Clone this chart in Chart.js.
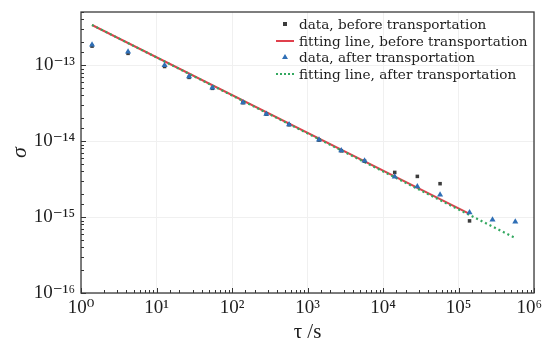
<!DOCTYPE html>
<html>
<head>
<meta charset="utf-8">
<script src="https://cdn.jsdelivr.net/npm/chart.js@4/dist/chart.umd.min.js"></script>
<style>
html,body{margin:0;padding:0;background:#fff;}
#wrap{position:relative;width:545px;height:340px;}
#legend{position:absolute;left:276px;top:16px;font-family:'DejaVu Serif',serif;font-size:13.6px;color:#1e1e1e;line-height:16.5px;}
.row{display:flex;align-items:center;height:16.5px;white-space:nowrap;}
.mk{width:18px;height:16px;position:relative;margin-right:5px;}
</style>
</head>
<body>
<div id="wrap">
<canvas id="c" width="545" height="340"></canvas>
<div id="legend"></div>
</div>
<script>
// ---- data ----
const tauBefore   = [1.4, 4.2, 12.8, 27, 55, 140, 285, 570, 1420, 2800, 5700, 14300, 28500, 57000, 140000];
const sigmaBefore = [1.78e-13, 1.43e-13, 9.6e-14, 6.9e-14, 4.95e-14, 3.2e-14, 2.26e-14, 1.64e-14, 1.03e-14, 7.45e-15, 5.45e-15, 3.87e-15, 3.43e-15, 2.75e-15, 8.9e-16];
const tauAfter    = [1.4, 4.2, 12.8, 27, 55, 140, 285, 570, 1420, 2800, 5700, 14300, 28500, 57000, 140000, 282000, 565000];
const sigmaAfter  = [1.85e-13, 1.5e-13, 1.0e-13, 7.1e-14, 5.05e-14, 3.22e-14, 2.28e-14, 1.65e-14, 1.04e-14, 7.5e-15, 5.5e-15, 3.39e-15, 2.53e-15, 1.96e-15, 1.15e-15, 9.2e-16, 8.7e-16];
const fitTauBefore   = [1.4, 140000];
const fitSigmaBefore = [3.38e-13, 1.1e-15];
const fitTauAfter    = [1.4, 565000];
const fitSigmaAfter  = [3.38e-13, 5.3e-16];
const seriesLabels = ['data, before transportation','fitting line, before transportation','data, after transportation','fitting line, after transportation'];
const xDecades = [0,1,2,3,4,5,6];
const yDecades = [-16,-15,-14,-13];

const SUP = {'0':'⁰','1':'¹','2':'²','3':'³','4':'⁴','5':'⁵','6':'⁶','7':'⁷','8':'⁸','9':'⁹','-':'⁻'};
function pow10Label(e){ return '10' + String(e).split('').map(c=>SUP[c]).join(''); }
function decadeOf(v){ const l=Math.log10(v); const r=Math.round(l); return Math.abs(l-r)<1e-6 ? r : null; }
function pts(xs,ys){ return xs.map((x,i)=>({x:x,y:ys[i]})); }

const C_BEFORE='#3c3c3c', C_RED='#e0404c', C_AFTER='#2f6fb6', C_GREEN='#33a860';
const serif="'Liberation Serif', 'DejaVu Serif', serif";

const frameTicks = {
  id:'frameTicks',
  afterDraw(chart){
    const ctx=chart.ctx, a=chart.chartArea, sx=chart.scales.x, sy=chart.scales.y;
    ctx.save();
    ctx.strokeStyle='#333'; ctx.lineWidth=1;
    sx.ticks.forEach(t=>{
      const p=Math.round(sx.getPixelForValue(t.value))+0.5;
      const len = decadeOf(t.value)!==null ? 5 : 3;
      ctx.beginPath(); ctx.moveTo(p,a.bottom); ctx.lineTo(p,a.bottom-len); ctx.stroke();
    });
    sy.ticks.forEach(t=>{
      if(t.value>sy.max) return;
      const p=Math.round(sy.getPixelForValue(t.value))+0.5;
      const len = decadeOf(t.value)!==null ? 5 : 3;
      ctx.beginPath(); ctx.moveTo(a.left,p); ctx.lineTo(a.left+len,p); ctx.stroke();
    });
    ctx.strokeStyle='#3a3a3a'; ctx.lineWidth=1.3;
    ctx.strokeRect(a.left,a.top,a.right-a.left,a.bottom-a.top);
    ctx.restore();
  }
};

const chart = new Chart(document.getElementById('c'), {
  type:'scatter',
  data:{ datasets:[
    {label:seriesLabels[0], data:pts(tauBefore,sigmaBefore), pointStyle:'rect', pointRadius:2.5, backgroundColor:C_BEFORE, borderColor:C_BEFORE, borderWidth:0, order:1},
    {label:seriesLabels[1], data:pts(fitTauBefore,fitSigmaBefore), showLine:true, pointRadius:0, borderColor:C_RED, borderWidth:2, order:3},
    {label:seriesLabels[2], data:pts(tauAfter,sigmaAfter), pointStyle:'triangle', pointRadius:3.5, backgroundColor:C_AFTER, borderColor:C_AFTER, borderWidth:0, order:0},
    {label:seriesLabels[3], data:pts(fitTauAfter,fitSigmaAfter), showLine:true, pointRadius:0, borderColor:C_GREEN, borderWidth:2.2, borderDash:[2,3], order:2}
  ]},
  options:{
    responsive:false, animation:false, devicePixelRatio:1,
    layout:{padding:{top:12,right:11,left:0,bottom:0}},
    plugins:{legend:{display:false}, tooltip:{enabled:false}},
    scales:{
      x:{type:'logarithmic', min:1, max:1e6,
        afterFit(s){ s.height=47; s.paddingLeft=0; s.paddingRight=0; },
        border:{display:false},
        grid:{drawTicks:false, color:c=> (c.tick && decadeOf(c.tick.value)!==null) ? '#f0f0f0' : 'rgba(0,0,0,0)', lineWidth:1},
        ticks:{autoSkip:false, maxRotation:0, padding:4, color:'#1e1e1e', font:{family:serif,size:19},
          callback:(v)=>{ const d=decadeOf(v);
            if(d===null || !xDecades.includes(d)) return '';
            return d===xDecades[xDecades.length-1] ? pow10Label(d)+'\u2002' : pow10Label(d); }},
        title:{display:true, text:'τ /s', color:'#1e1e1e', font:{family:serif,size:21,lineHeight:1}, padding:{top:0,bottom:-3}}
      },
      y:{type:'logarithmic', min:1e-16, max:5.01e-13,
        afterFit(s){ s.width=81; s.paddingTop=0; s.paddingBottom=0; },
        border:{display:false},
        grid:{drawTicks:false, color:c=> (c.tick && decadeOf(c.tick.value)!==null) ? '#f0f0f0' : 'rgba(0,0,0,0)', lineWidth:1},
        ticks:{autoSkip:false, padding:6, color:'#1e1e1e', font:{family:serif,size:19},
          callback:(v)=>{ const d=decadeOf(v); return (d!==null && yDecades.includes(d)) ? pow10Label(d) : ''; }},
        title:{display:true, text:'σ', color:'#1e1e1e', font:{family:serif,size:22,style:'italic',lineHeight:1}, padding:{top:9,bottom:0}}
      }
    }
  },
  plugins:[frameTicks]
});

// HTML legend built from the dataset labels
const lg=document.getElementById('legend');
const markers=[
  '<div style="position:absolute;left:7px;top:6px;width:4px;height:4px;background:'+C_BEFORE+'"></div>',
  '<div style="position:absolute;left:0;top:7px;width:18px;height:2px;background:'+C_RED+'"></div>',
  '<div style="position:absolute;left:6px;top:5px;width:0;height:0;border-left:3px solid transparent;border-right:3px solid transparent;border-bottom:5px solid '+C_AFTER+'"></div>',
  '<div style="position:absolute;left:0;top:7px;width:18px;height:0;border-top:2px dotted '+C_GREEN+'"></div>'
];
seriesLabels.forEach((t,i)=>{
  const r=document.createElement('div'); r.className='row';
  r.innerHTML='<div class="mk">'+markers[i]+'</div>';
  const s=document.createElement('span'); s.textContent=t; r.appendChild(s);
  lg.appendChild(r);
});
</script>
</body>
</html>
